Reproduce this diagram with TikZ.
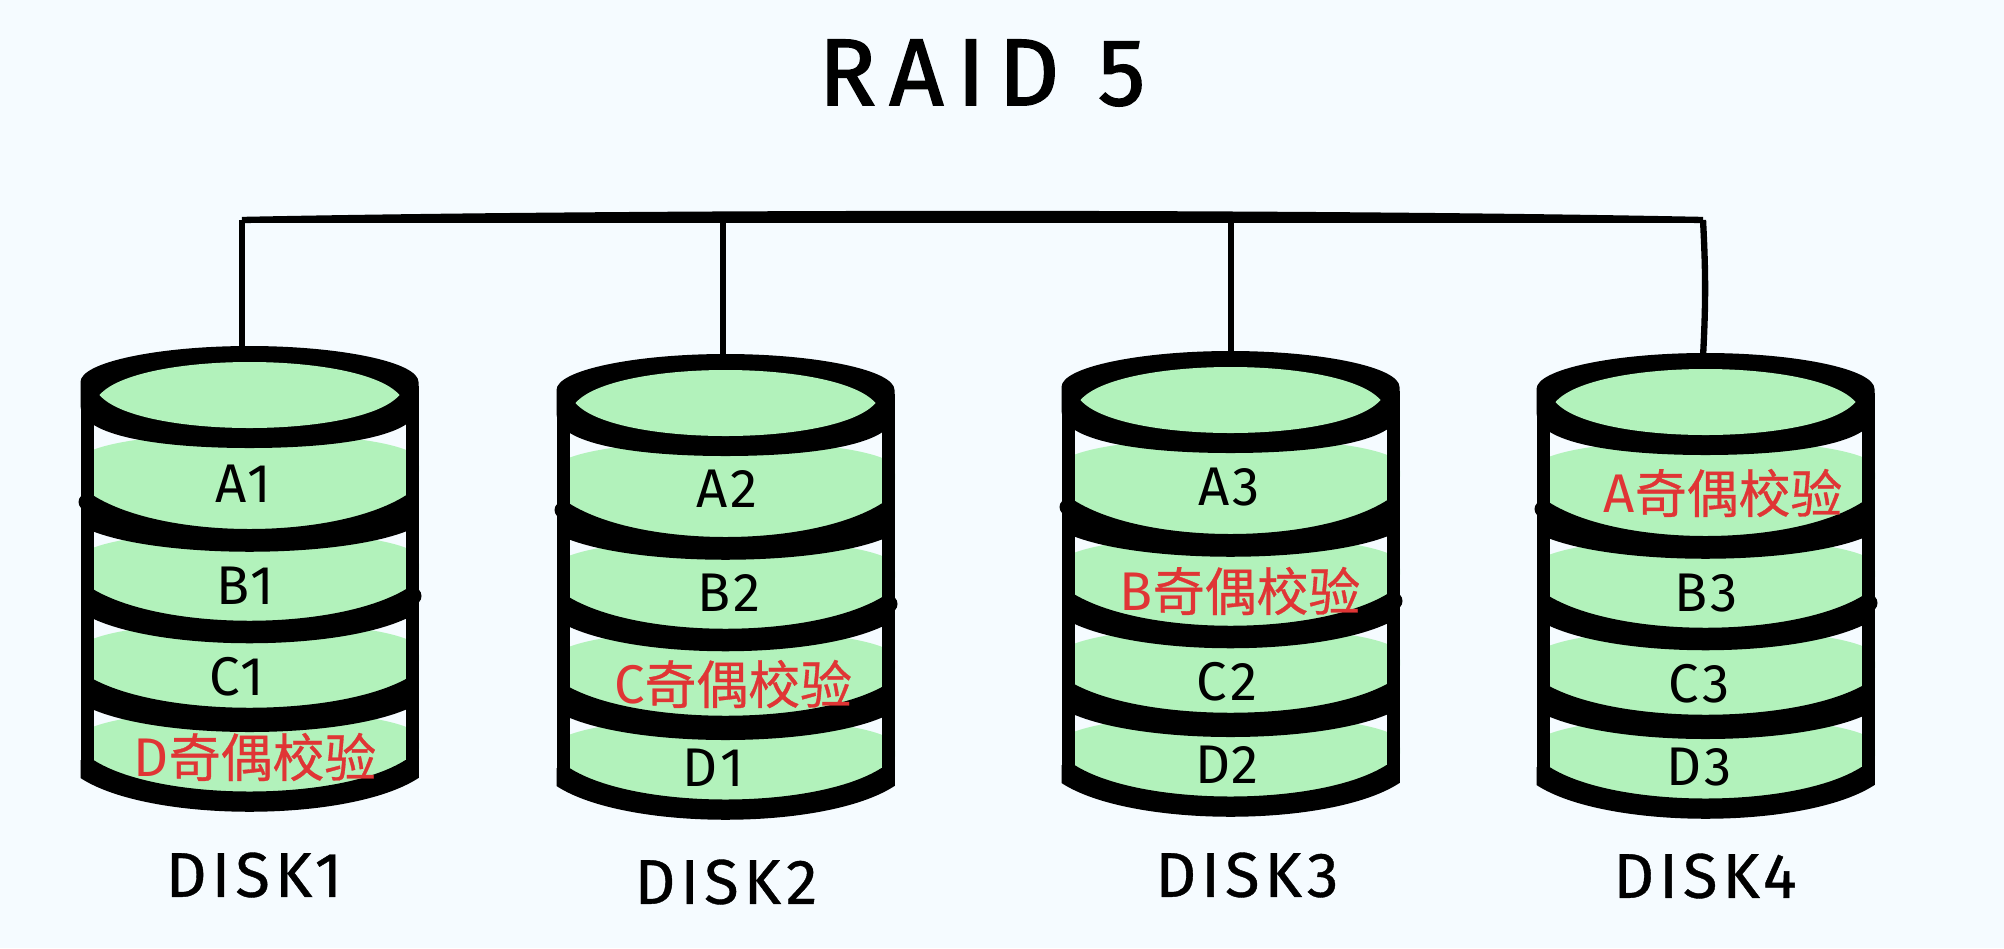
\documentclass[tikz,border=0pt]{standalone}
\usepackage{fontspec}
\newfontfamily\handfont{Fira Sans}
\newfontfamily\cjkfont[FakeBold=0.6]{Noto Sans CJK SC}
\definecolor{paper}{HTML}{F5FBFF}
\definecolor{platter}{HTML}{B2F2BB}
\definecolor{parity}{HTML}{E03535}

\tikzset{
	wire/.style={line width=3.6pt},
	titletext/.style={font=\handfont\fontsize{54}{60}\selectfont\addfontfeatures{LetterSpace=14,FakeBold=1.6}},
	diskname/.style={font=\handfont\fontsize{36}{40}\selectfont\addfontfeatures{LetterSpace=8,FakeBold=0.6}},
	blocktext/.style={font=\handfont\fontsize{31}{36}\selectfont\addfontfeatures{LetterSpace=6}},
	paritytext/.style={text=parity,inner sep=0pt},
	raiddisk/.pic={
		% green faces first, the black rims go over them
		\foreach \t/\b in {102/165,200/255,291/345,379/422}
			\fill[platter] (-165,\t+6) .. controls (-120,\t-22) and (120,\t-22) .. (165,\t+6) .. controls (172,\t+16) and (172,\t+30) .. (160,\t+40) -- (160,\b) .. controls (90,\b+35) and (-90,\b+35) .. (-160,\b) -- cycle;
		\foreach \ua/\ub/\la/\lb in {147/195/184/213,241/286/271/306,331/372/362/394}
			\fill (-160,\ua) .. controls (-90,\ub) and (90,\ub) .. (160,\ua) -- (160,\la) .. controls (90,\lb) and (-90,\lb) .. (-160,\la) -- cycle;
		\fill (-169,414) -- (-156,414) .. controls (-90,456) and (90,456) .. (156,414) -- (169,414) -- (169,432) .. controls (100,477) and (-100,477) .. (-169,432) -- cycle;
		\fill (-169,40) rectangle (-156,432);
		\fill (156,40) rectangle (169,432);
		\fill (-163,156) circle (8);
		\fill (163,250) circle (9);
		\fill (-169,36) .. controls (-169,16) and (-90,0) .. (0,0) .. controls (90,0) and (169,16) .. (169,36) -- (169,60) .. controls (169,90) and (90,102) .. (0,102) .. controls (-90,102) and (-169,90) .. (-169,60) -- cycle;
		\fill[platter] (-150,49) .. controls (-112,5) and (112,5) .. (150,49) .. controls (112,93) and (-112,93) .. (-150,49) -- cycle;
	}
}

\begin{document}
\begin{tikzpicture}[x=0.02cm,y=-0.02cm]
	\useasboundingbox (0,0) rectangle (2004,948);
	\fill[paper] (0,0) rectangle (2004,948);

	\node[titletext] (title) at (982,73) {RAID 5};

	\coordinate (disk1) at (249.5,346);
	\coordinate (disk2) at (725.5,354);
	\coordinate (disk3) at (1230.5,351);
	\coordinate (disk4) at (1705.5,353);

	\coordinate (bus1) at (242,220);
	\coordinate (bus2) at (723,220);
	\coordinate (bus3) at (1231,212);
	\coordinate (bus4) at (1703,220);
	\coordinate (port1) at (242,350);
	\coordinate (port2) at (723,358);
	\coordinate (port3) at (1231,355);
	\coordinate (port4) at (1703,357);

	\draw[wire] (bus1) -- (bus4);
	\draw[wire] (bus1) .. controls +(400,-8) and +(-400,-8) .. (bus4);
	\draw[wire] (bus1) -- (port1);
	\draw[wire] (bus2) -- (port2);
	\draw[wire] (bus3) -- (port3);
	\draw[wire] (bus4) to[bend left=3] (port4);

	\foreach \d in {1,2,3,4}
		\pic at (disk\d) {raiddisk};

	\foreach \n/\x/\y/\s in {a1/243/484/A1,b1/245/586/B1,c1/237/677/C1,
		a2/727/489/A2,b2/729/593/B2,d1/713/768/D1,
		a3/1229/487/A3,c2/1227/682/C2,d2/1227/765/D2,
		b3/1706/593/B3,c3/1699/684/C3,d3/1699/767/D3}
		\node[blocktext] (\n) at (\x,\y) {\s};

	\foreach \n/\x/\y/\s in {dpar/255/757/D,cpar/733/684/C,bpar/1240/591/B,apar/1723/493/A}
		\node[paritytext] (\n) at (\x,\y) {{\handfont\fontsize{31}{36}\selectfont\s}{\cjkfont\fontsize{29.5}{36}\selectfont 奇偶校验}};

	\node[diskname] (name1) at (254,875) {DISK1};
	\node[diskname] (name2) at (726,882) {DISK2};
	\node[diskname] (name3) at (1247,875) {DISK3};
	\node[diskname] (name4) at (1705,876) {DISK4};
\end{tikzpicture}
\end{document}
